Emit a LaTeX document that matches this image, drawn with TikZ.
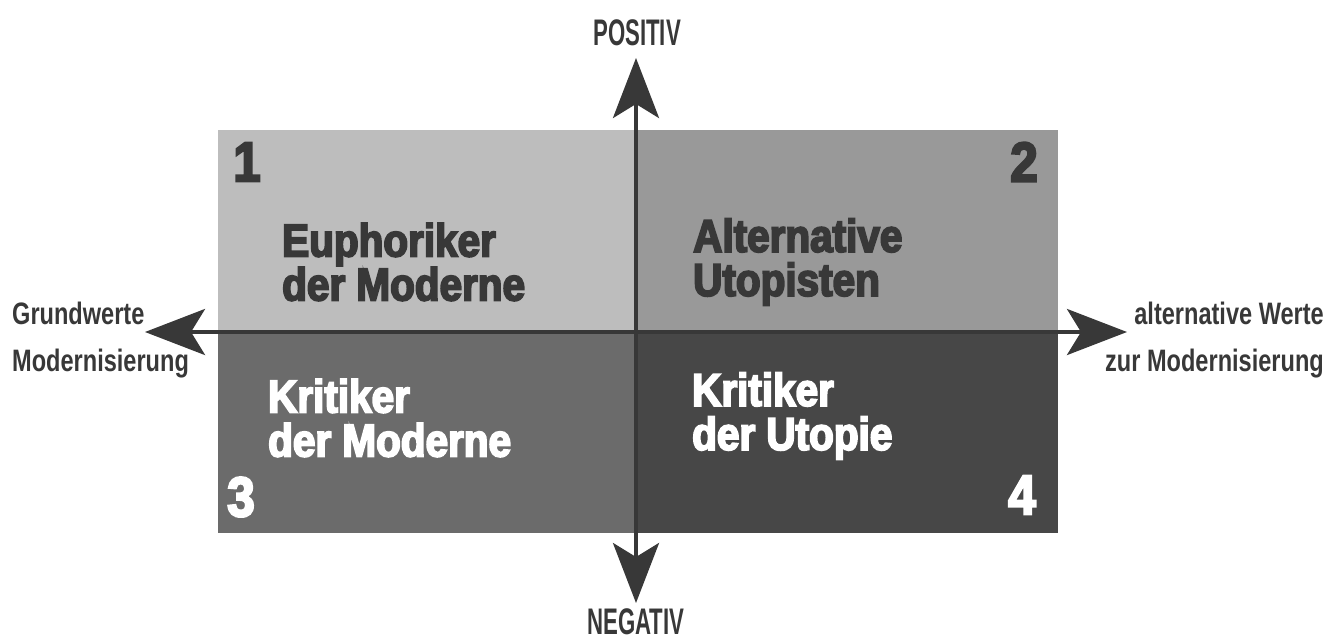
\documentclass[tikz,border=0pt]{standalone}
\usepackage{fontspec}
\setmainfont{Liberation Sans}
\newfontfamily\axisfont[FakeStretch=0.76]{Liberation Sans}
\newfontfamily\capsfont[FakeStretch=0.6]{Liberation Sans}
\newfontfamily\boxfont[FakeStretch=0.88, FakeBold=4]{Liberation Sans}
\usetikzlibrary{arrows.meta, positioning}

\definecolor{quadA}{gray}{0.74}
\definecolor{quadB}{gray}{0.60}
\definecolor{quadC}{gray}{0.42}
\definecolor{quadD}{gray}{0.28}
\definecolor{ink}{gray}{0.22}

\begin{document}
\begin{tikzpicture}[
        x = 1pt, y = -1pt,
        >= {Stealth[length = 60pt, width = 46pt, inset = 14pt]},
        quad/.style = {draw = none, inner sep = 0pt, anchor = north west,
                       minimum width = 419.5pt, minimum height = 201pt},
        axis/.style = {draw = ink, line width = 4pt},
        num/.style = {inner sep = 0pt, font = \boxfont\bfseries\fontsize{56}{56}\selectfont},
        title/.style = {inner sep = 0pt, anchor = west, align = left,
                        font = \boxfont\bfseries\fontsize{46}{44}\selectfont},
        side/.style = {inner sep = 0pt, text = ink,
                       font = \axisfont\bfseries\fontsize{31}{47}\selectfont},
        pole/.style = {inner sep = 0pt, text = ink,
                       font = \capsfont\bfseries\fontsize{37}{37}\selectfont}
    ]
      \useasboundingbox (0,0) rectangle (1338,643);

      % the four fields
      \node[quad, fill = quadA] (q1) at (218,130) {};
      \node[quad, fill = quadB, right = 0pt of q1] (q2) {};
      \node[quad, fill = quadC, below = 0pt of q1] (q3) {};
      \node[quad, fill = quadD, right = 0pt of q3] (q4) {};

      \node[num, text = ink]   (n1) at (247,162) {1};
      \node[num, text = ink]   (n2) at (1024,162) {2};
      \node[num, text = white] (n3) at (241,497) {3};
      \node[num, text = white] (n4) at (1022,495) {4};

      \node[title, text = ink]   (eupho) at (282,262) {Euphoriker\\der Moderne};
      \node[title, text = ink]   (alter) at (693,262) {Alternative\\Utopisten};
      \node[title, text = white] (krmod) at (268,418) {Kritiker\\der Moderne};
      \node[title, text = white] (krutp) at (692,416) {Kritiker\\der Utopie};

      % axes
      \coordinate (west)  at (145,332);
      \coordinate (east)  at (1127,332);
      \coordinate (north) at (636,58);
      \coordinate (south) at (636,603);
      \draw[axis, <->] (west) -- (east);
      \draw[axis, <->] (south) -- (north);

      \node[pole] (pos) at (637,33) {POSITIV};
      \node[pole] (neg) at (636,622) {NEGATIV};
      \node[side, anchor = west, align = left]  (grund) at (12,340) {Grundwerte\\Modernisierung};
      \node[side, anchor = east, align = right] (alt)   at (1324,340) {alternative Werte\\zur Modernisierung};
    \end{tikzpicture}
\end{document}
